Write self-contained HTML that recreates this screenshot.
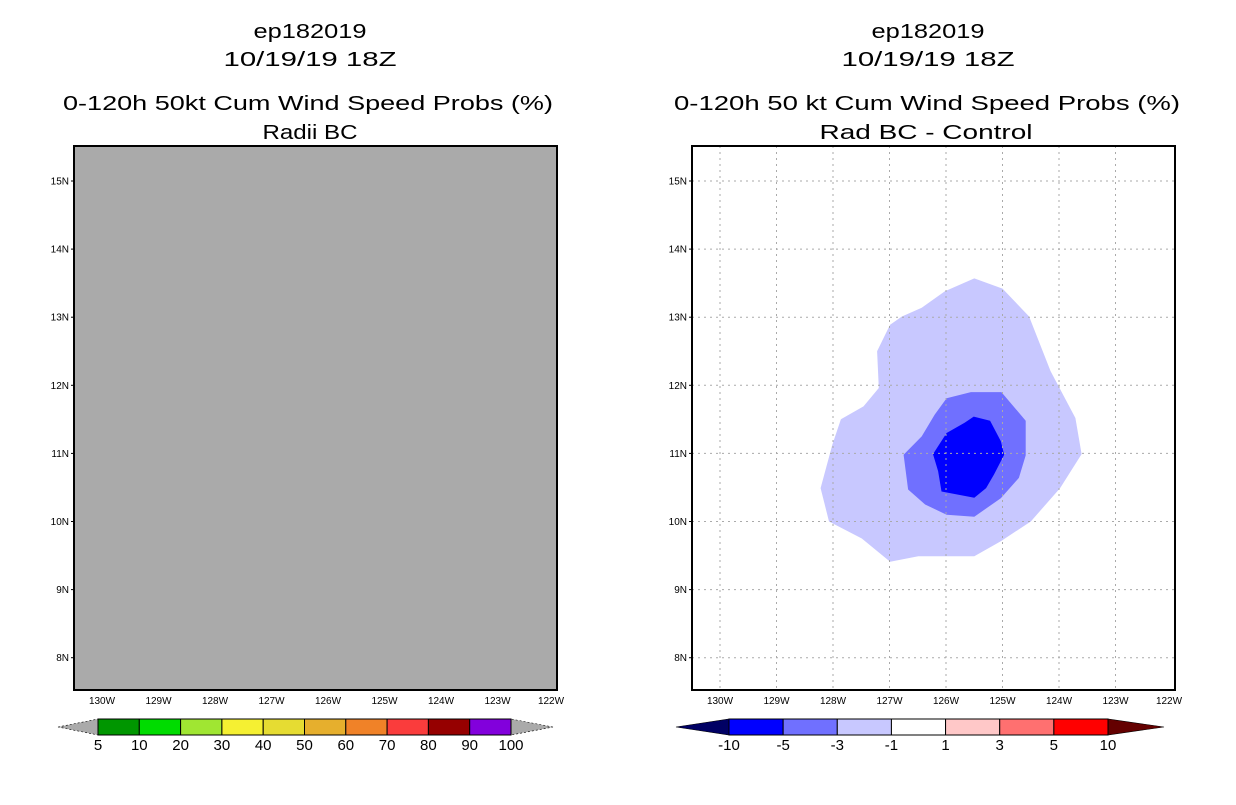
<!DOCTYPE html>
<html><head><meta charset="utf-8"><style>
body{margin:0;background:#fff;width:1236px;height:800px;overflow:hidden;font-family:"Liberation Sans",sans-serif}
</style></head><body>
<svg id="chart" width="1236" height="800" xmlns="http://www.w3.org/2000/svg" font-family="Liberation Sans, sans-serif">
<g font-size="20" text-anchor="middle" fill="#000">
<text x="310" y="38" textLength="113" lengthAdjust="spacingAndGlyphs">ep182019</text>
<text x="310" y="66" textLength="173" lengthAdjust="spacingAndGlyphs">10/19/19 18Z</text>
<text x="308" y="110" textLength="490" lengthAdjust="spacingAndGlyphs">0-120h 50kt Cum Wind Speed Probs (%)</text>
<text x="310" y="139" textLength="95" lengthAdjust="spacingAndGlyphs">Radii BC</text>
</g>
<g font-size="20" text-anchor="middle" fill="#000">
<text x="928" y="38" textLength="113" lengthAdjust="spacingAndGlyphs">ep182019</text>
<text x="928" y="66" textLength="173" lengthAdjust="spacingAndGlyphs">10/19/19 18Z</text>
<text x="927" y="110" textLength="506" lengthAdjust="spacingAndGlyphs">0-120h 50 kt Cum Wind Speed Probs (%)</text>
<text x="926" y="139" textLength="213" lengthAdjust="spacingAndGlyphs">Rad BC - Control</text>
</g>
<g id="left"></g>
<g id="right"></g>
<g id="cbl"></g>
<g id="cbr"></g>
</svg>
<script>
const lonTicks=[130,129,128,127,126,125,124,123,122];
const latTicks=[15,14,13,12,11,10,9,8];
const outerLon=[125.50,125.0,124.53,124.15,123.71,123.60,123.98,124.50,125.03,125.50,126.49,126.99,127.49,128.07,128.22,128.01,127.86,127.46,127.19,127.22,126.99,126.78,126.43,126.02];
const outerLat=[13.57,13.42,13.01,12.21,11.52,10.99,10.49,10.0,9.71,9.49,9.49,9.41,9.75,10.0,10.49,11.13,11.50,11.69,11.96,12.50,12.89,13.01,13.14,13.38];
const midLon=[125.99,125.56,125.02,124.59,124.59,124.71,125.03,125.50,125.99,126.37,126.67,126.75,126.43,126.20];
const midLat=[11.81,11.90,11.90,11.48,10.97,10.64,10.34,10.07,10.10,10.25,10.47,10.98,11.25,11.57];
const innerLon=[125.51,125.22,125.03,124.97,125.15,125.29,125.50,126.08,126.14,126.23,125.99,125.67];
const innerLat=[11.54,11.48,11.18,10.98,10.69,10.49,10.35,10.44,10.74,10.99,11.30,11.45];
const probLabels=["5","10","20","30","40","50","60","70","80","90","100"];
const probColors=["#009600","#00dc00","#a0e632","#f5f032","#e6dc32","#e6af2d","#f08228","#fa3c3c","#960000","#8200dc"];
const diffLabels=["-10","-5","-3","-1","1","3","5","10"];
const diffColors=["#0000ff","#7070ff","#c8c8ff","#ffffff","#ffc8c8","#ff7070","#ff0000"];
const NS="http://www.w3.org/2000/svg";
function mk(p,t,a){const e=document.createElementNS(NS,t);for(const k in a)e.setAttribute(k,a[k]);p.appendChild(e);return e;}
const TOP=146,BOT=690,W=483;
function xs(x0){return lon=>x0+28+(130-lon)*56.5;}
function ys(lat){return 181+(15-lat)*68.1;}
function axes(g,x0,fill){
  const X=xs(x0);
  const bg=mk(g,'rect',{x:x0,y:TOP,width:W,height:BOT-TOP,fill:fill});
  
  
  lonTicks.forEach(l=>{
    const x=X(l);
    const t=mk(g,'text',{x:Math.min(x,x0+W-6),y:BOT+14,'font-size':10,'text-anchor':'middle'});t.textContent=l+'W';
    
  });
  latTicks.forEach(l=>{
    const y=ys(l);
    mk(g,'line',{x1:x0-3,x2:x0,y1:y,y2:y,stroke:'#000'});
    const t=mk(g,'text',{x:x0-5,y:y+3.5,'font-size':10,'text-anchor':'end'});t.textContent=l+'N';
    
  });
  return X;
}
function frame(g,x0){const f=mk(g,'rect',{x:x0,y:TOP,width:W,height:BOT-TOP,fill:'none',stroke:'#000','stroke-width':2});
  }
const L=document.getElementById('left');
axes(L,74,'#aaaaaa');frame(L,74);
const R=document.getElementById('right');
const XR=axes(R,692,'#ffffff');
function poly(lons,lats,col,name){
  const pts=lons.map((l,i)=>XR(l).toFixed(1)+','+ys(lats[i]).toFixed(1)).join(' ');
  const p=mk(R,'polygon',{points:pts,fill:col});
  
}
poly(outerLon,outerLat,'#c8c8ff','contour-minus1-to-minus3');
poly(midLon,midLat,'#7070ff','contour-minus3-to-minus5');
poly(innerLon,innerLat,'#0000ff','contour-minus5-to-minus10');
lonTicks.forEach(l=>{if(l>122){const x=XR(l);const gl=mk(R,'line',{x1:x,x2:x,y1:TOP,y2:BOT,stroke:'#aaa','stroke-dasharray':'2,4'});
  }});
latTicks.forEach(l=>{const y=ys(l);const gl=mk(R,'line',{x1:692,x2:692+W,y1:y,y2:y,stroke:'#aaa','stroke-dasharray':'2,4'});
  });
frame(R,692);
function colorbar(g,tipL,x1,x2,tipR,cols,labs,lc,rc){
  const y1=719,y2=735,ym=727,n=cols.length,w=(x2-x1)/n;
  const a=mk(g,'polygon',{points:`${tipL},${ym} ${x1},${y1} ${x1},${y2}`,fill:lc,stroke:'#000','stroke-width':0.6,'stroke-dasharray':lc=='#aaaaaa'?'2,2':''});
  
  const b=mk(g,'polygon',{points:`${tipR},${ym} ${x2},${y1} ${x2},${y2}`,fill:rc,stroke:'#000','stroke-width':0.6,'stroke-dasharray':rc=='#aaaaaa'?'2,2':''});
  
  cols.forEach((c,i)=>{const r=mk(g,'rect',{x:x1+i*w,y:y1,width:w,height:y2-y1,fill:c,stroke:'#000','stroke-width':1});
    });
  labs.forEach((t,i)=>{const e=mk(g,'text',{x:x1+i*w,y:750,'font-size':15,'text-anchor':'middle'});e.textContent=t;
    });
}
colorbar(document.getElementById('cbl'),58,98,511,553,probColors,probLabels,'#aaaaaa','#aaaaaa');
colorbar(document.getElementById('cbr'),676,729,1108,1164,diffColors,diffLabels,'#000064','#640000');
</script>
</body></html>
